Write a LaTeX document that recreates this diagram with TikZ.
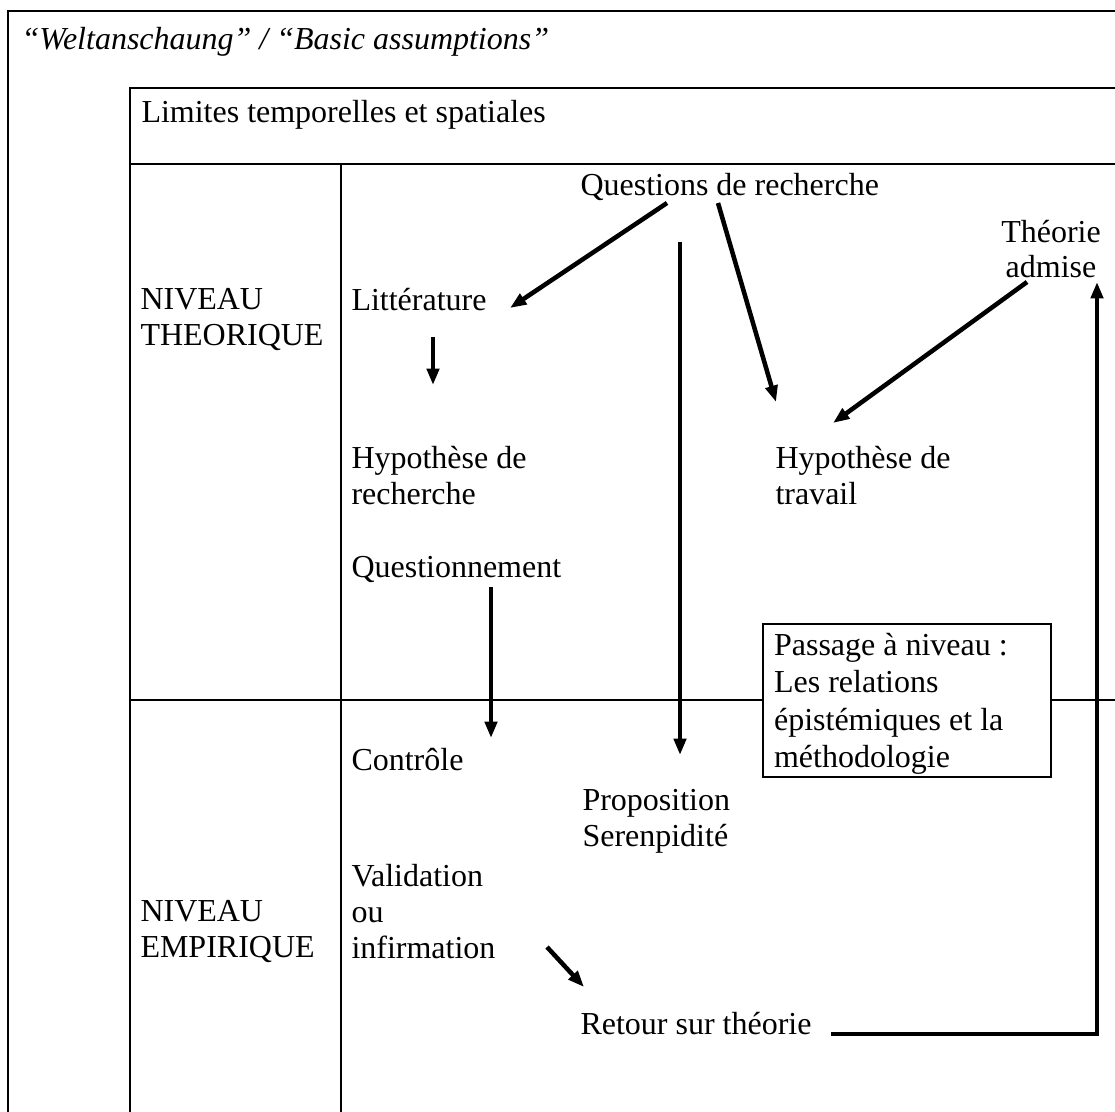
\documentclass[tikz,border=0pt]{standalone}
\usepackage{fontspec}
\setmainfont{Liberation Serif}
\usepackage{tikz}
\usetikzlibrary{arrows.meta, calc}

\begin{document}
\begin{tikzpicture}[x=0.397pt, y=-0.397pt,
  cadre/.style={line width=0.8pt},
  txt/.style={anchor=base west, inner sep=0pt, align=left, font=\fontsize{12.7}{14.1}\selectfont},
  fleche/.style={line width=1.8pt, -{Triangle[length=6.5pt, width=4.8pt]}}]
  \useasboundingbox (0,0) rectangle (1115,1111);

  % Cadres
  \draw[cadre] (8,1130) -- (8,11) -- (1130,11);
  \draw[cadre] (130,1130) -- (130,88) -- (1130,88);
  \draw[cadre] (130,164) -- (1130,164);
  \draw[cadre] (341,164) -- (341,1130);
  \draw[cadre] (130,700) -- (1130,700);

  % Titres (ancre = ligne de base de la derniere ligne)
  \node[txt, font=\fontsize{12.7}{14.1}\selectfont\itshape] (welt) at (21,50) {“Weltanschaung” / “Basic assumptions”};
  \node[txt] (lim) at (141,123) {Limites temporelles et spatiales};
  \node[txt] (nt) at (140,345) {NIVEAU\\THEORIQUE};
  \node[txt] (ne) at (140,957) {NIVEAU\\EMPIRIQUE};

  % Colonne de gauche
  \node[txt] (lit) at (351,310) {Littérature};
  \node[txt] (hr) at (351,504) {Hypothèse de\\recherche};
  \node[txt] (qn) at (351,577) {Questionnement};
  \node[txt] (ctl) at (351,770) {Contrôle};
  \node[txt] (val) at (351,958) {Validation\\ou\\infirmation};

  % Colonne de droite
  \node[txt] (qr) at (580,196) {Questions de recherche};
  \node[txt, anchor=base, align=center] (ta) at (1051,278) {Théorie\\admise};
  \node[txt] (ht) at (775,504) {Hypothèse de\\travail};
  \node[txt] (ps) at (582,846) {Proposition\\Serenpidité};
  \node[txt] (rt) at (580,1034) {Retour sur théorie};

  % Passage a niveau
  \node[draw, cadre, fill=white, anchor=north west, text width=105.5pt,
    inner xsep=4.4pt, inner ysep=1pt, align=flush left,
    font=\fontsize{12.7}{14.8}\selectfont] (pn) at (762,623)
    {\rule{0pt}{11.5pt}Passage à niveau :\\Les relations\\épistémiques et la\\méthodologie};

  % Fleches
  \draw[fleche] ($(qr.base west)+(87,7)$) -- ($(lit.base west)+(159,-2)$);
  \draw[fleche] ($(qr.base west)+(138,7)$) -- ($(ht.base west)+(1,-102)$);
  \draw[fleche] ($(ta.base)+(-24,4)$) -- ($(ht.base west)+(58,-81)$);
  \draw[fleche] ($(qr.base west)+(100,46)$) -- ($(ps.base west)+(98,-91)$);
  \draw[fleche] ($(lit.base west)+(82,27)$) -- ($(hr.base west)+(82,-119)$);
  \draw[fleche] ($(qn.base west)+(140,10)$) -- ($(ctl.base west)+(140,-32)$);
  \draw[fleche] ($(val.base west)+(196,-11)$) -- ($(rt.base west)+(4,-47)$);
  \draw[fleche] ($(rt.base west)+(251,0)$) -| ($(ta.base)+(46,4)$);
\end{tikzpicture}
\end{document}
